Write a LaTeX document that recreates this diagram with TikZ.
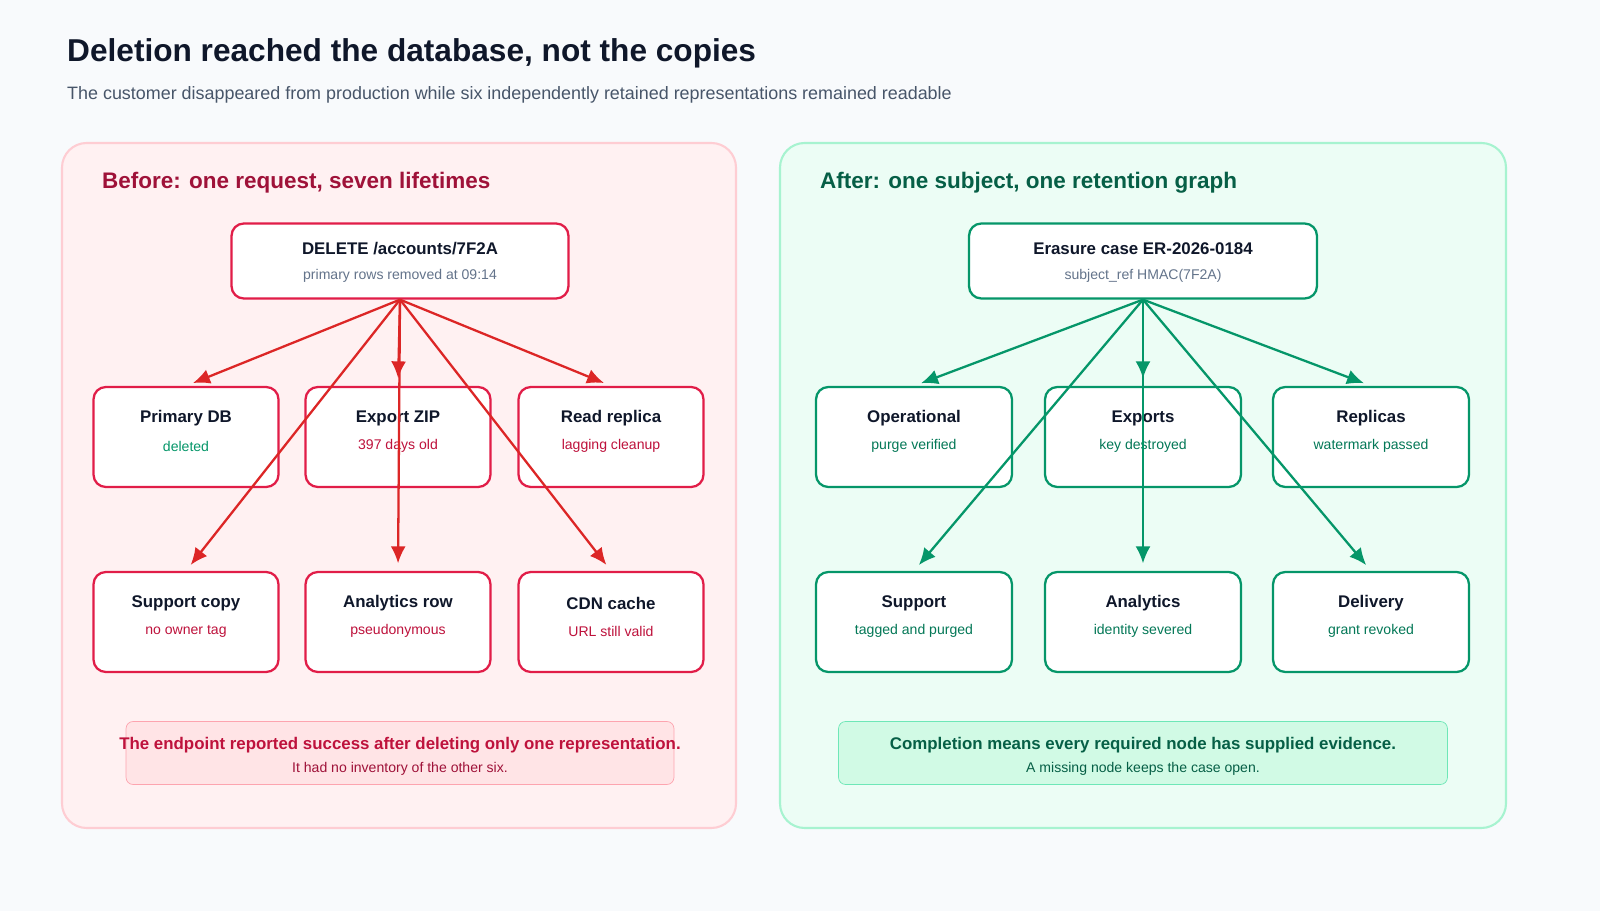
\documentclass[tikz,border=0pt]{standalone}
\usepackage{fontspec}
\setmainfont{Liberation Sans}
\usetikzlibrary{arrows.meta}
\definecolor{pagebg}{HTML}{F8FAFC}
\definecolor{ink}{HTML}{0F172A}
\definecolor{muted}{HTML}{475569}
\definecolor{subgray}{HTML}{64748B}
\definecolor{redfill}{HTML}{FFF1F2}
\definecolor{redline}{HTML}{FECDD3}
\definecolor{redbox}{HTML}{E11D48}
\definecolor{redarrow}{HTML}{DC2626}
\definecolor{redtext}{HTML}{BE123C}
\definecolor{redhead}{HTML}{9F1239}
\definecolor{rednote}{HTML}{FFE4E6}
\definecolor{rednoteline}{HTML}{FDA4AF}
\definecolor{grnfill}{HTML}{ECFDF5}
\definecolor{grnline}{HTML}{A7F3D0}
\definecolor{grnbox}{HTML}{059669}
\definecolor{grntext}{HTML}{047857}
\definecolor{grnhead}{HTML}{065F46}
\definecolor{grnnote}{HTML}{D1FAE5}
\definecolor{grnnoteline}{HTML}{6EE7B7}
\tikzset{
  panel/.style={rounded corners=14pt, line width=1.2pt},
  box/.style={draw, fill=white, rounded corners=7pt, line width=1.3pt, minimum height=2cm, align=center},
  flow/.style={line width=1.3pt, -{Latex[length=3.4mm, width=3mm]}, shorten >=1.5mm},
  status/.style={font=\fontsize{8}{10}\selectfont},
  boxtitle/.style={font=\fontsize{9.6}{12}\selectfont\bfseries, text=ink}
}
\begin{document}
\begin{tikzpicture}[x=0.02cm, y=-0.02cm]
\fill[pagebg] (0,0) rectangle (1600,911);
\useasboundingbox (0,0) rectangle (1600,911);
% title
\node[anchor=west, font=\fontsize{18}{22}\selectfont\bfseries, text=ink] (title) at (61,53) {Deletion reached the database, not the copies};
\node[anchor=west, font=\fontsize{10.2}{12}\selectfont, text=muted] (subtitle) at (61,95) {The customer disappeared from production while six independently retained representations remained readable};
% panels
\draw[panel, fill=redfill, draw=redline] (62,143) rectangle (736,828);
\draw[panel, fill=grnfill, draw=grnline] (780,143) rectangle (1506,828);
\node[anchor=west, font=\fontsize{12.8}{15}\selectfont\bfseries, text=redhead] (lhead) at (96,183) {Before: one request, seven lifetimes};
\node[anchor=west, font=\fontsize{12.8}{15}\selectfont\bfseries, text=grnhead] (rhead) at (814,183) {After: one subject, one retention graph};

% before side
\node[box, draw=redbox, minimum width=6.74cm, minimum height=1.5cm] (del) at (400,261) {};
\node[boxtitle] at (400,249) {DELETE /accounts/7F2A};
\node[status, text=subgray] at (400,276) {primary rows removed at 09:14};
\foreach \n/\x/\y/\t/\s/\c in {pdb/186/437/Primary DB/deleted/grnbox, zip/398/437/Export ZIP/397 days old/redtext,
  rep/611/437/Read replica/lagging cleanup/redtext, sup/186/622/Support copy/no owner tag/redtext,
  ana/398/622/Analytics row/pseudonymous/redtext, cdn/611/622/CDN cache/URL still valid/redtext}{
  \node[box, draw=redbox, minimum width=3.7cm] (\n) at (\x,\y) {};
  \node[boxtitle] at (\x,\y-19) {\t};
  \node[status, text=\c] at (\x,\y+9) {\s};
}
\foreach \n in {pdb,zip,rep,sup,ana,cdn}
  \draw[flow, draw=redarrow, fill=redarrow] (del.south) -- (\n.north);
\node[draw=rednoteline, fill=rednote, rounded corners=4pt, minimum width=10.96cm, minimum height=1.26cm] (lnote) at (400,753) {};
\node[font=\fontsize{9.6}{12}\selectfont\bfseries, text=redtext] at (400,745) {The endpoint reported success after deleting only one representation.};
\node[status, text=redhead] at (400,769) {It had no inventory of the other six.};

% after side
\node[box, draw=grnbox, minimum width=6.96cm, minimum height=1.5cm] (erc) at (1143,261) {};
\node[boxtitle] at (1143,249) {Erasure case ER-2026-0184};
\node[status, text=subgray] at (1143,276) {subject\_ref HMAC(7F2A)};
\foreach \n/\x/\y/\t/\s in {opr/914/437/Operational/purge verified, exp/1143/437/Exports/key destroyed,
  rpl/1371/437/Replicas/watermark passed, spt/914/622/Support/tagged and purged,
  anl/1143/622/Analytics/identity severed, dlv/1371/622/Delivery/grant revoked}{
  \node[box, draw=grnbox, minimum width=3.92cm] (\n) at (\x,\y) {};
  \node[boxtitle] at (\x,\y-19) {\t};
  \node[status, text=grntext] at (\x,\y+9) {\s};
}
\foreach \n in {opr,exp,rpl,spt,anl,dlv}
  \draw[flow, draw=grnbox, fill=grnbox] (erc.south) -- (\n.north);
\node[draw=grnnoteline, fill=grnnote, rounded corners=4pt, minimum width=12.18cm, minimum height=1.26cm] (rnote) at (1143,753) {};
\node[font=\fontsize{9.6}{12}\selectfont\bfseries, text=grnhead] at (1143,745) {Completion means every required node has supplied evidence.};
\node[status, text=grnhead] at (1143,769) {A missing node keeps the case open.};
\end{tikzpicture}
\end{document}
